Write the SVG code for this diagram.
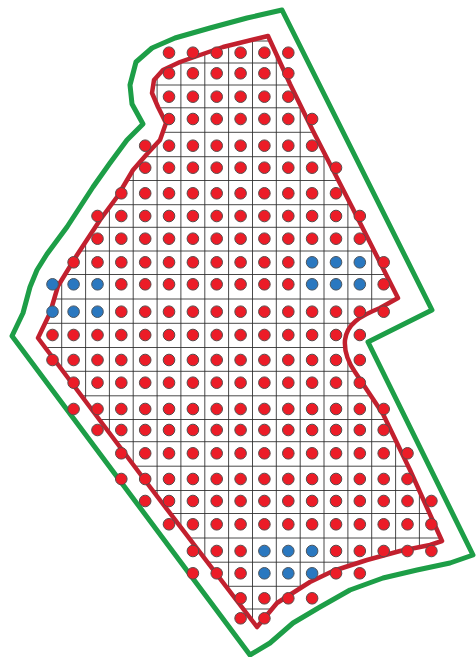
<svg xmlns="http://www.w3.org/2000/svg" width="476" height="657" viewBox="0 0 476 657">
<style>
.green{fill:none;stroke:#1d9e47;stroke-width:5;stroke-linejoin:round;stroke-linecap:round}
.red{fill:none;stroke:#c2202e;stroke-width:4.5;stroke-linejoin:round;stroke-linecap:round}
.grid{fill:none;stroke:#2a2a2a;stroke-width:1;opacity:0.85}
.r circle{fill:#ec1c27;stroke:#5a4a4a;stroke-width:1}
.b circle{fill:#2a78c0;stroke:#4a5560;stroke-width:1}
</style>
<defs>
<clipPath id="clipRed">
<path d="M268,36 L290,84 L313,131 L352,207 L398,298 L380,308 C360,316 347,324 345,340 C344,352 348,362 355,372 L383,414 L410,470 L442,541 L430,545 L400,551 L367,560 L333,571 L310,582 L277,603 L257,627 L150,487 L38,338 L50,313 L58,286 L77,255 L100,220 L117,197 L133,170 L147,154 L160,140 L166,123 L158,107 L152,93 L154,80 L163,70 L180,62 L223,47 Z"/>
</clipPath>
</defs>
<rect width="476" height="657" fill="#ffffff"/>
<g id="boundary-outer">
<path class="green" d="M282,10 L432,310 L368,342 L473,555 L450,563 L417,570 L383,578 L350,590 L320,607 L293,623 L270,643 L250,655 L12,336 L23,313 L30,287 L37,270 L47,254 L67,227 L93,187 L110,163 L127,140 L143,124 L132,104 L130,85 L136,62 L152,48 L175,38 L210,28 L247,18 Z"/>
</g>
<g id="grid" clip-path="url(#clipRed)">
<path class="grid" d="M37.9,20V640 M61.7,20V640 M85.6,20V640 M109.4,20V640 M133.2,20V640 M157.1,20V640 M180.9,20V640 M204.8,20V640 M228.6,20V640 M252.5,20V640 M276.3,20V640 M300.2,20V640 M324,20V640 M347.9,20V640 M371.7,20V640 M395.6,20V640 M419.4,20V640 M443.3,20V640
M20,41H460 M20,63H460 M20,85H460 M20,107.8H460 M20,132.3H460 M20,156.7H460 M20,180.5H460 M20,204.7H460 M20,227.3H460 M20,251H460 M20,274.5H460 M20,299H460 M20,323.3H460 M20,347.5H460 M20,371.3H460 M20,395.8H460 M20,419.5H460 M20,441.7H460 M20,466.2H460 M20,490.5H460 M20,513.5H460 M20,538H460 M20,562.2H460 M20,586.3H460 M20,609H460 M20,630H460"/>
</g>
<g id="boundary-inner">
<path class="red" d="M268,36 L290,84 L313,131 L352,207 L398,298 L380,308 C360,316 347,324 345,340 C344,352 348,362 355,372 L383,414 L410,470 L442,541 L430,545 L400,551 L367,560 L333,571 L310,582 L277,603 L257,627 L150,487 L38,338 L50,313 L58,286 L77,255 L100,220 L117,197 L133,170 L147,154 L160,140 L166,123 L158,107 L152,93 L154,80 L163,70 L180,62 L223,47 Z"/>
</g>
<g id="dots-red" class="r">
<circle cx="169" cy="52.7" r="5.8"/><circle cx="192.9" cy="52.7" r="5.8"/><circle cx="216.7" cy="52.7" r="5.8"/><circle cx="240.6" cy="52.7" r="5.8"/><circle cx="264.4" cy="52.7" r="5.8"/><circle cx="288.3" cy="52.7" r="5.8"/>
<circle cx="169" cy="73.3" r="5.8"/><circle cx="192.9" cy="73.3" r="5.8"/><circle cx="216.7" cy="73.3" r="5.8"/><circle cx="240.6" cy="73.3" r="5.8"/><circle cx="264.4" cy="73.3" r="5.8"/><circle cx="288.3" cy="73.3" r="5.8"/>
<circle cx="169" cy="96.7" r="5.8"/><circle cx="192.9" cy="96.7" r="5.8"/><circle cx="216.7" cy="96.7" r="5.8"/><circle cx="240.6" cy="96.7" r="5.8"/><circle cx="264.4" cy="96.7" r="5.8"/><circle cx="288.3" cy="96.7" r="5.8"/>
<circle cx="169" cy="119" r="5.8"/><circle cx="192.9" cy="119" r="5.8"/><circle cx="216.7" cy="119" r="5.8"/><circle cx="240.6" cy="119" r="5.8"/><circle cx="264.4" cy="119" r="5.8"/><circle cx="288.3" cy="119" r="5.8"/><circle cx="312.1" cy="119" r="5.8"/>
<circle cx="145.2" cy="145.7" r="5.8"/><circle cx="169" cy="145.7" r="5.8"/><circle cx="192.9" cy="145.7" r="5.8"/><circle cx="216.7" cy="145.7" r="5.8"/><circle cx="240.6" cy="145.7" r="5.8"/><circle cx="264.4" cy="145.7" r="5.8"/><circle cx="288.3" cy="145.7" r="5.8"/><circle cx="312.1" cy="145.7" r="5.8"/>
<circle cx="145.2" cy="167.7" r="5.8"/><circle cx="169" cy="167.7" r="5.8"/><circle cx="192.9" cy="167.7" r="5.8"/><circle cx="216.7" cy="167.7" r="5.8"/><circle cx="240.6" cy="167.7" r="5.8"/><circle cx="264.4" cy="167.7" r="5.8"/><circle cx="288.3" cy="167.7" r="5.8"/><circle cx="312.1" cy="167.7" r="5.8"/><circle cx="336" cy="167.7" r="5.8"/>
<circle cx="121.3" cy="193.3" r="5.8"/><circle cx="145.2" cy="193.3" r="5.8"/><circle cx="169" cy="193.3" r="5.8"/><circle cx="192.9" cy="193.3" r="5.8"/><circle cx="216.7" cy="193.3" r="5.8"/><circle cx="240.6" cy="193.3" r="5.8"/><circle cx="264.4" cy="193.3" r="5.8"/><circle cx="288.3" cy="193.3" r="5.8"/><circle cx="312.1" cy="193.3" r="5.8"/><circle cx="336" cy="193.3" r="5.8"/>
<circle cx="97.5" cy="216" r="5.8"/><circle cx="121.3" cy="216" r="5.8"/><circle cx="145.2" cy="216" r="5.8"/><circle cx="169" cy="216" r="5.8"/><circle cx="192.9" cy="216" r="5.8"/><circle cx="216.7" cy="216" r="5.8"/><circle cx="240.6" cy="216" r="5.8"/><circle cx="264.4" cy="216" r="5.8"/><circle cx="288.3" cy="216" r="5.8"/><circle cx="312.1" cy="216" r="5.8"/><circle cx="336" cy="216" r="5.8"/><circle cx="359.8" cy="216" r="5.8"/>
<circle cx="97.5" cy="238.7" r="5.8"/><circle cx="121.3" cy="238.7" r="5.8"/><circle cx="145.2" cy="238.7" r="5.8"/><circle cx="169" cy="238.7" r="5.8"/><circle cx="192.9" cy="238.7" r="5.8"/><circle cx="216.7" cy="238.7" r="5.8"/><circle cx="240.6" cy="238.7" r="5.8"/><circle cx="264.4" cy="238.7" r="5.8"/><circle cx="288.3" cy="238.7" r="5.8"/><circle cx="312.1" cy="238.7" r="5.8"/><circle cx="336" cy="238.7" r="5.8"/><circle cx="359.8" cy="238.7" r="5.8"/>
<circle cx="73.6" cy="262.3" r="5.8"/><circle cx="97.5" cy="262.3" r="5.8"/><circle cx="121.3" cy="262.3" r="5.8"/><circle cx="145.2" cy="262.3" r="5.8"/><circle cx="169" cy="262.3" r="5.8"/><circle cx="192.9" cy="262.3" r="5.8"/><circle cx="216.7" cy="262.3" r="5.8"/><circle cx="240.6" cy="262.3" r="5.8"/><circle cx="264.4" cy="262.3" r="5.8"/><circle cx="288.3" cy="262.3" r="5.8"/><circle cx="383.7" cy="262.3" r="5.8"/>
<circle cx="121.3" cy="284.3" r="5.8"/><circle cx="145.2" cy="284.3" r="5.8"/><circle cx="169" cy="284.3" r="5.8"/><circle cx="192.9" cy="284.3" r="5.8"/><circle cx="216.7" cy="284.3" r="5.8"/><circle cx="240.6" cy="284.3" r="5.8"/><circle cx="264.4" cy="284.3" r="5.8"/><circle cx="288.3" cy="284.3" r="5.8"/><circle cx="383.7" cy="284.3" r="5.8"/>
<circle cx="121.3" cy="311.7" r="5.8"/><circle cx="145.2" cy="311.7" r="5.8"/><circle cx="169" cy="311.7" r="5.8"/><circle cx="192.9" cy="311.7" r="5.8"/><circle cx="216.7" cy="311.7" r="5.8"/><circle cx="240.6" cy="311.7" r="5.8"/><circle cx="264.4" cy="311.7" r="5.8"/><circle cx="288.3" cy="311.7" r="5.8"/><circle cx="312.1" cy="311.7" r="5.8"/><circle cx="336" cy="311.7" r="5.8"/><circle cx="359.8" cy="311.7" r="5.8"/><circle cx="383.7" cy="311.7" r="5.8"/>
<circle cx="52.5" cy="335" r="5.8"/><circle cx="73.6" cy="335" r="5.8"/><circle cx="97.5" cy="335" r="5.8"/><circle cx="121.3" cy="335" r="5.8"/><circle cx="145.2" cy="335" r="5.8"/><circle cx="169" cy="335" r="5.8"/><circle cx="192.9" cy="335" r="5.8"/><circle cx="216.7" cy="335" r="5.8"/><circle cx="240.6" cy="335" r="5.8"/><circle cx="264.4" cy="335" r="5.8"/><circle cx="288.3" cy="335" r="5.8"/><circle cx="312.1" cy="335" r="5.8"/><circle cx="336" cy="335" r="5.8"/><circle cx="359.8" cy="335" r="5.8"/>
<circle cx="52.5" cy="360" r="5.8"/><circle cx="73.6" cy="360" r="5.8"/><circle cx="97.5" cy="360" r="5.8"/><circle cx="121.3" cy="360" r="5.8"/><circle cx="145.2" cy="360" r="5.8"/><circle cx="169" cy="360" r="5.8"/><circle cx="192.9" cy="360" r="5.8"/><circle cx="216.7" cy="360" r="5.8"/><circle cx="240.6" cy="360" r="5.8"/><circle cx="264.4" cy="360" r="5.8"/><circle cx="288.3" cy="360" r="5.8"/><circle cx="312.1" cy="360" r="5.8"/><circle cx="336" cy="360" r="5.8"/><circle cx="359.8" cy="360" r="5.8"/>
<circle cx="73.6" cy="382.7" r="5.8"/><circle cx="97.5" cy="382.7" r="5.8"/><circle cx="121.3" cy="382.7" r="5.8"/><circle cx="145.2" cy="382.7" r="5.8"/><circle cx="169" cy="382.7" r="5.8"/><circle cx="192.9" cy="382.7" r="5.8"/><circle cx="216.7" cy="382.7" r="5.8"/><circle cx="240.6" cy="382.7" r="5.8"/><circle cx="264.4" cy="382.7" r="5.8"/><circle cx="288.3" cy="382.7" r="5.8"/><circle cx="312.1" cy="382.7" r="5.8"/><circle cx="336" cy="382.7" r="5.8"/><circle cx="359.8" cy="382.7" r="5.8"/>
<circle cx="73.6" cy="409" r="5.8"/><circle cx="97.5" cy="409" r="5.8"/><circle cx="121.3" cy="409" r="5.8"/><circle cx="145.2" cy="409" r="5.8"/><circle cx="169" cy="409" r="5.8"/><circle cx="192.9" cy="409" r="5.8"/><circle cx="216.7" cy="409" r="5.8"/><circle cx="240.6" cy="409" r="5.8"/><circle cx="264.4" cy="409" r="5.8"/><circle cx="288.3" cy="409" r="5.8"/><circle cx="312.1" cy="409" r="5.8"/><circle cx="336" cy="409" r="5.8"/><circle cx="359.8" cy="409" r="5.8"/><circle cx="383.7" cy="409" r="5.8"/>
<circle cx="97.5" cy="430" r="5.8"/><circle cx="121.3" cy="430" r="5.8"/><circle cx="145.2" cy="430" r="5.8"/><circle cx="169" cy="430" r="5.8"/><circle cx="192.9" cy="430" r="5.8"/><circle cx="216.7" cy="430" r="5.8"/><circle cx="240.6" cy="430" r="5.8"/><circle cx="264.4" cy="430" r="5.8"/><circle cx="288.3" cy="430" r="5.8"/><circle cx="312.1" cy="430" r="5.8"/><circle cx="336" cy="430" r="5.8"/><circle cx="359.8" cy="430" r="5.8"/><circle cx="383.7" cy="430" r="5.8"/>
<circle cx="121.3" cy="453.3" r="5.8"/><circle cx="145.2" cy="453.3" r="5.8"/><circle cx="169" cy="453.3" r="5.8"/><circle cx="192.9" cy="453.3" r="5.8"/><circle cx="216.7" cy="453.3" r="5.8"/><circle cx="240.6" cy="453.3" r="5.8"/><circle cx="264.4" cy="453.3" r="5.8"/><circle cx="288.3" cy="453.3" r="5.8"/><circle cx="312.1" cy="453.3" r="5.8"/><circle cx="336" cy="453.3" r="5.8"/><circle cx="359.8" cy="453.3" r="5.8"/><circle cx="383.7" cy="453.3" r="5.8"/><circle cx="407.5" cy="453.3" r="5.8"/>
<circle cx="121.3" cy="479" r="5.8"/><circle cx="145.2" cy="479" r="5.8"/><circle cx="169" cy="479" r="5.8"/><circle cx="192.9" cy="479" r="5.8"/><circle cx="216.7" cy="479" r="5.8"/><circle cx="240.6" cy="479" r="5.8"/><circle cx="264.4" cy="479" r="5.8"/><circle cx="288.3" cy="479" r="5.8"/><circle cx="312.1" cy="479" r="5.8"/><circle cx="336" cy="479" r="5.8"/><circle cx="359.8" cy="479" r="5.8"/><circle cx="383.7" cy="479" r="5.8"/><circle cx="407.5" cy="479" r="5.8"/>
<circle cx="145.2" cy="501" r="5.8"/><circle cx="169" cy="501" r="5.8"/><circle cx="192.9" cy="501" r="5.8"/><circle cx="216.7" cy="501" r="5.8"/><circle cx="240.6" cy="501" r="5.8"/><circle cx="264.4" cy="501" r="5.8"/><circle cx="288.3" cy="501" r="5.8"/><circle cx="312.1" cy="501" r="5.8"/><circle cx="336" cy="501" r="5.8"/><circle cx="359.8" cy="501" r="5.8"/><circle cx="383.7" cy="501" r="5.8"/><circle cx="407.5" cy="501" r="5.8"/><circle cx="431.4" cy="501" r="5.8"/>
<circle cx="169" cy="524.3" r="5.8"/><circle cx="192.9" cy="524.3" r="5.8"/><circle cx="216.7" cy="524.3" r="5.8"/><circle cx="240.6" cy="524.3" r="5.8"/><circle cx="264.4" cy="524.3" r="5.8"/><circle cx="288.3" cy="524.3" r="5.8"/><circle cx="312.1" cy="524.3" r="5.8"/><circle cx="336" cy="524.3" r="5.8"/><circle cx="359.8" cy="524.3" r="5.8"/><circle cx="383.7" cy="524.3" r="5.8"/><circle cx="407.5" cy="524.3" r="5.8"/><circle cx="431.4" cy="524.3" r="5.8"/>
<circle cx="192.9" cy="551" r="5.8"/><circle cx="216.7" cy="551" r="5.8"/><circle cx="240.6" cy="551" r="5.8"/><circle cx="336" cy="551" r="5.8"/><circle cx="359.8" cy="551" r="5.8"/><circle cx="383.7" cy="551" r="5.8"/><circle cx="407.5" cy="551" r="5.8"/><circle cx="431.4" cy="551" r="5.8"/>
<circle cx="192.9" cy="573.3" r="5.8"/><circle cx="216.7" cy="573.3" r="5.8"/><circle cx="240.6" cy="573.3" r="5.8"/><circle cx="336" cy="573.3" r="5.8"/><circle cx="359.8" cy="573.3" r="5.8"/>
<circle cx="240.6" cy="598.3" r="5.8"/><circle cx="264.4" cy="598.3" r="5.8"/><circle cx="288.3" cy="598.3" r="5.8"/><circle cx="312.1" cy="598.3" r="5.8"/>
<circle cx="240.6" cy="618.3" r="5.8"/><circle cx="264.4" cy="618.3" r="5.8"/>
</g>
<g id="dots-blue" class="b">
<circle cx="312.1" cy="262.3" r="5.8"/><circle cx="336" cy="262.3" r="5.8"/><circle cx="359.8" cy="262.3" r="5.8"/>
<circle cx="52.5" cy="284.3" r="5.8"/><circle cx="73.6" cy="284.3" r="5.8"/><circle cx="97.5" cy="284.3" r="5.8"/><circle cx="312.1" cy="284.3" r="5.8"/><circle cx="336" cy="284.3" r="5.8"/><circle cx="359.8" cy="284.3" r="5.8"/>
<circle cx="52.5" cy="311.7" r="5.8"/><circle cx="73.6" cy="311.7" r="5.8"/><circle cx="97.5" cy="311.7" r="5.8"/>
<circle cx="264.4" cy="551" r="5.8"/><circle cx="288.3" cy="551" r="5.8"/><circle cx="312.1" cy="551" r="5.8"/>
<circle cx="264.4" cy="573.3" r="5.8"/><circle cx="288.3" cy="573.3" r="5.8"/><circle cx="312.1" cy="573.3" r="5.8"/>
</g>
</svg>
